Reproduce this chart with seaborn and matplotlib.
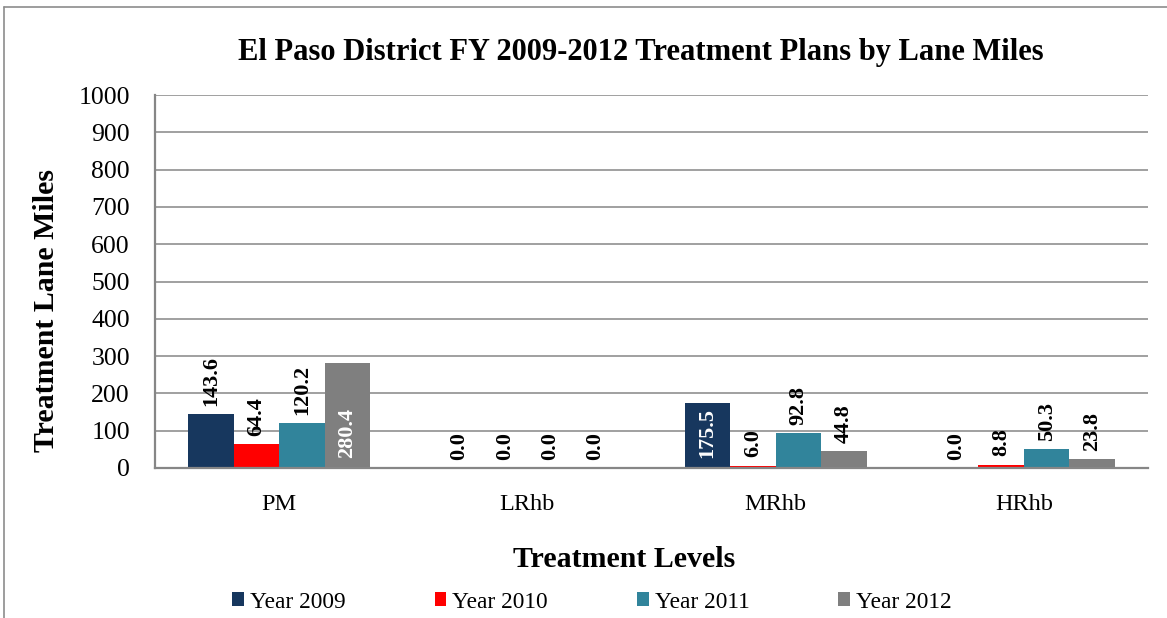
import matplotlib
matplotlib.use("Agg")
import matplotlib.pyplot as plt
import seaborn as sns
import pandas as pd
from matplotlib.lines import Line2D

categories = ["PM", "LRhb", "MRhb", "HRhb"]
years = ["Year 2009", "Year 2010", "Year 2011", "Year 2012"]
year_2009 = [143.6, 0.0, 175.5, 0.0]
year_2010 = [64.4, 0.0, 6.0, 8.8]
year_2011 = [120.2, 0.0, 92.8, 50.3]
year_2012 = [280.4, 0.0, 44.8, 23.8]
y_ticks = [0, 100, 200, 300, 400, 500, 600, 700, 800, 900, 1000]
colors = ["#17375E", "#FF0000", "#31849B", "#7F7F7F"]
inside_labels = {("PM", "Year 2012"), ("MRhb", "Year 2009")}

series = [year_2009, year_2010, year_2011, year_2012]
rows = []
for yr, vals in zip(years, series):
    for c, v in zip(categories, vals):
        rows.append({"Treatment": c, "Year": yr, "Miles": v})
df = pd.DataFrame(rows)

sns.set_theme(style="white")
plt.rcParams["font.family"] = ["Liberation Serif", "DejaVu Serif"]
plt.rcParams["text.color"] = "black"
plt.rcParams["axes.labelcolor"] = "black"
plt.rcParams["xtick.color"] = "black"
plt.rcParams["ytick.color"] = "black"

fig = plt.figure(figsize=(11.67, 6.18), dpi=100)
ax = fig.add_axes([155/1167, 1-468/618, (1148-155)/1167, (468-95)/618])

sns.barplot(data=df, x="Treatment", y="Miles", hue="Year", order=categories,
            hue_order=years, palette=colors, width=0.733, saturation=1,
            ax=ax, edgecolor="none", linewidth=0)

ax.set_ylim(0, 1000)
ax.set_yticks(y_ticks)
ax.set_yticklabels([str(t) for t in y_ticks])
ax.yaxis.grid(True, color="#868686", linewidth=1.1)
ax.set_axisbelow(True)
for s in ["top", "right"]:
    ax.spines[s].set_visible(False)
for s in ["left", "bottom"]:
    ax.spines[s].set_color("#868686")
    ax.spines[s].set_linewidth(1.6)
ax.tick_params(axis="y", length=0, pad=18, labelsize=18.5, labelcolor="black")
ax.tick_params(axis="x", length=0, pad=19, labelsize=17.5, labelcolor="black")

# value labels
for yr, cont in zip(years, ax.containers):
    for c, patch in zip(categories, cont.patches):
        h = patch.get_height()
        xc = patch.get_x() + patch.get_width() / 2
        if (c, yr) in inside_labels:
            ax.annotate(f"{h:.1f}", (xc, 0), xytext=(0, 7), textcoords="offset points",
                        rotation=90, ha="center", va="bottom", fontsize=16,
                        fontweight="bold", color="white")
        else:
            ax.annotate(f"{h:.1f}", (xc, h), xytext=(0, 6), textcoords="offset points",
                        rotation=90, ha="center", va="bottom", fontsize=16,
                        fontweight="bold", color="black")

ax.set_ylabel("Treatment Lane Miles", fontsize=21.5, fontweight="bold",
              ha="center", va="center", color="black")
ax.yaxis.set_label_coords((47-155)/993, (468-310)/373)
ax.set_xlabel("Treatment Levels", fontsize=21.5, fontweight="bold", va="top",
              color="black")
ax.xaxis.set_label_coords((624-155)/993, (468-546)/373)

fig.text(641/1167, 1-60/618, "El Paso District FY 2009-2012 Treatment Plans by Lane Miles",
         ha="center", va="baseline", fontsize=22, fontweight="bold", color="black")

handles, labels = ax.get_legend_handles_labels()
ax.get_legend().remove()
fig.legend(handles, labels, loc="center", bbox_to_anchor=(592/1167, 1-602/618),
           ncol=4, frameon=False, fontsize=16.8, handlelength=0.51,
           handleheight=0.51, handletextpad=0.26, columnspacing=3.8,
           borderpad=0.1)

frame_color = "#8C8C8C"
fig.add_artist(Line2D([4/1167, 4/1167], [0, 1-7/618], color=frame_color, linewidth=1.2,
                      transform=fig.transFigure))
fig.add_artist(Line2D([4/1167, 1], [1-7/618, 1-7/618], color=frame_color, linewidth=1.2,
                      transform=fig.transFigure))

fig.savefig("out.png", dpi=100)
